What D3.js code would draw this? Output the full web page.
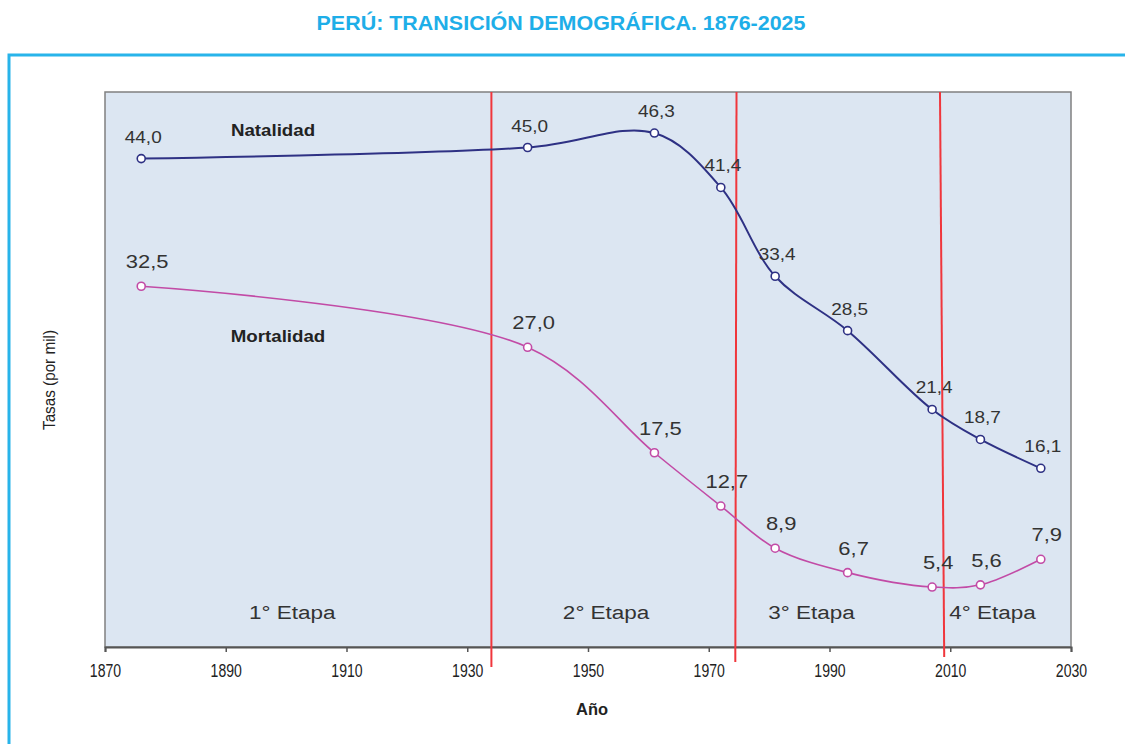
<html>
<head>
<meta charset="utf-8">
<script src="https://d3js.org/d3.v7.min.js"></script>
<style>
  body { margin: 0; background: #fff; }
</style>
</head>
<body>
<div id="svgcontainer"></div>
<script>
  // data
  var natYears = [1876, 1940, 1961, 1972, 1981, 1993, 2007, 2015, 2025];
  var natalidad = [44.0, 45.0, 46.3, 41.4, 33.4, 28.5, 21.4, 18.7, 16.1];
  var morYears = [1876, 1940, 1961, 1972, 1981, 1993, 2007, 2015, 2025];
  var mortalidad = [32.5, 27.0, 17.5, 12.7, 8.9, 6.7, 5.4, 5.6, 7.9];
  var xTicks = [1870, 1890, 1910, 1930, 1950, 1970, 1990, 2010, 2030];
  var stageLimits = [[1934, 1934], [1974.6, 1974.4], [2008.3, 2009.0]];
  var stageNames = ["1° Etapa", "2° Etapa", "3° Etapa", "4° Etapa"];
  var stageCenters = [1901, 1953, 1987, 2017];

  var width = 1125, height = 744;
  var svg = d3.select("#svgcontainer").append("svg")
    .attr("width", width).attr("height", height);

  var font = "'Liberation Sans', Arial, sans-serif";

  // text stretched horizontally like the original
  function label(px, py, str, size, sx, opts) {
    opts = opts || {};
    return svg.append("text")
      .attr("transform", "translate(" + px + "," + py + ") scale(" + sx + ",1)")
      .attr("text-anchor", "middle")
      .style("font-family", font)
      .style("font-weight", opts.bold ? "bold" : "normal")
      .style("font-size", size + "px")
      .attr("fill", opts.fill || "#333")
      .text(str);
  }

  // title
  svg.append("text")
    .attr("x", 561).attr("y", 30)
    .attr("text-anchor", "middle")
    .attr("textLength", 489)
    .attr("lengthAdjust", "spacingAndGlyphs")
    .style("font-family", font)
    .style("font-weight", "bold")
    .style("font-size", "21px")
    .attr("fill", "#1EAEE8")
    .text("PERÚ: TRANSICIÓN DEMOGRÁFICA. 1876-2025");

  // outer light-blue frame
  svg.append("path")
    .attr("d", "M9,744 L9,55 L1125,55")
    .attr("fill", "none")
    .attr("stroke", "#28B4EA")
    .attr("stroke-width", 3);

  var pLeft = 105, pRight = 1071, pTop = 92, pBottom = 647;
  var x = d3.scaleLinear().domain([1870, 2030]).range([pLeft, pRight]);
  var y = d3.scaleLinear().domain([0, 50]).range([pBottom, pTop]);

  // plot area
  svg.append("rect")
    .attr("x", pLeft).attr("y", pTop)
    .attr("width", pRight - pLeft).attr("height", pBottom - pTop)
    .attr("fill", "#DCE6F2")
    .attr("stroke", "#808080")
    .attr("stroke-width", 1.5);

  // x axis
  var xAxis = svg.append("g")
    .attr("transform", "translate(0," + pBottom + ")")
    .call(d3.axisBottom(x).tickValues(xTicks).tickFormat(d3.format("d")).tickSize(5).tickPadding(12));
  xAxis.select(".domain").attr("stroke", "#555").attr("stroke-width", 2);
  xAxis.selectAll(".tick line").attr("stroke", "#555").attr("stroke-width", 1.5);
  xAxis.selectAll(".tick text")
    .attr("transform", "scale(0.74,1)")
    .style("font-family", font)
    .style("font-size", "19px")
    .attr("fill", "#222");

  svg.append("text")
    .attr("x", 592).attr("y", 715)
    .attr("text-anchor", "middle")
    .attr("textLength", 32)
    .attr("lengthAdjust", "spacingAndGlyphs")
    .style("font-family", font)
    .style("font-weight", "bold")
    .style("font-size", "17px")
    .attr("fill", "#222")
    .text("Año");

  svg.append("text")
    .attr("transform", "translate(55,380) rotate(-90)")
    .attr("text-anchor", "middle")
    .attr("textLength", 100)
    .attr("lengthAdjust", "spacingAndGlyphs")
    .style("font-family", font)
    .style("font-size", "16px")
    .attr("fill", "#222")
    .text("Tasas (por mil)");

  // stage boundaries
  var stageBottoms = [667, 662, 657];
  stageLimits.forEach(function(s, i) {
    svg.append("line")
      .attr("x1", x(s[0])).attr("y1", pTop)
      .attr("x2", x(s[1])).attr("y2", stageBottoms[i])
      .attr("stroke", "#F0363C")
      .attr("stroke-width", 2);
  });

  stageNames.forEach(function(d, i) {
    label(x(stageCenters[i]), 619, d, 18, 1.25);
  });

  var fmt = function(v) { return v.toFixed(1).replace(".", ","); };

  function drawSeries(years, values, color, lw, labelSize, sx, dx, dy) {
    var pts = years.map(function(yr, i) { return { x: yr, v: values[i] }; });
    var line = d3.line()
      .curve(d3.curveCatmullRom.alpha(0.5))
      .x(function(d) { return x(d.x); })
      .y(function(d) { return y(d.v); });
    svg.append("path")
      .attr("d", line(pts))
      .attr("fill", "none")
      .attr("stroke", color)
      .attr("stroke-width", lw);
    svg.selectAll(null).data(pts).enter().append("circle")
      .attr("cx", function(d) { return x(d.x); })
      .attr("cy", function(d) { return y(d.v); })
      .attr("r", 4)
      .attr("fill", "#fff")
      .attr("stroke", color)
      .attr("stroke-width", 1.6);
    pts.forEach(function(d) {
      label(x(d.x) + dx, y(d.v) + dy, fmt(d.v), labelSize, sx);
    });
  }

  drawSeries(natYears, natalidad, "#2E3184", 2, 16.5, 1.15, 2, -16);
  drawSeries(morYears, mortalidad, "#C24BA6", 1.6, 18, 1.22, 6, -18);

  // series names
  label(273, 136, "Natalidad", 17, 1.1, { bold: true, fill: "#222" });
  label(278, 342, "Mortalidad", 17, 1.1, { bold: true, fill: "#222" });
</script>
</body>
</html>
